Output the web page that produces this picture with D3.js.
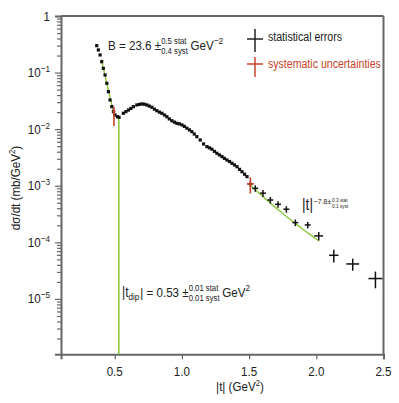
<!DOCTYPE html>
<html>
<head>
<meta charset="utf-8">
<script src="https://cdn.jsdelivr.net/npm/d3@7"></script>
<style>
	body { margin: 0; background: #fff; }
	svg { display: block; font-family: 'Liberation Sans', Arial, sans-serif; }
</style>
</head>
<body>
<svg id="viz_area" width="399" height="403"></svg>
<script>
// dense points below |t| = 1.5 (error bars smaller than the marker)
const tDots = [0.366, 0.378, 0.391, 0.403, 0.415, 0.428, 0.441, 0.453, 0.465, 0.478, 0.490, 0.502, 0.520, 0.532,
	0.564, 0.583, 0.602, 0.620, 0.639, 0.664, 0.683, 0.701, 0.720, 0.739, 0.757, 0.776, 0.795, 0.813, 0.832, 0.851,
	0.870, 0.888, 0.906, 0.925, 0.944, 0.962, 0.981, 1.000, 1.018, 1.037, 1.056, 1.074, 1.092, 1.111, 1.136,
	1.161, 1.186, 1.205, 1.223, 1.242, 1.260, 1.279, 1.298, 1.316, 1.335, 1.354, 1.372, 1.391, 1.410, 1.429, 1.447,
	1.466, 1.484];
const yDots = [0.299, 0.251, 0.205, 0.156, 0.119, 0.0907, 0.0647, 0.046, 0.0328, 0.025, 0.0204, 0.0178, 0.0166, 0.0162,
	0.0191, 0.0204, 0.0218, 0.0232, 0.025, 0.0268, 0.0274, 0.0279, 0.0276, 0.0268, 0.0256, 0.0244, 0.0226, 0.0212, 0.0200, 0.0191,
	0.0178, 0.0166, 0.0152, 0.0141, 0.0133, 0.0127, 0.0124, 0.0119, 0.0112, 0.0104, 0.0097, 0.00903, 0.0082, 0.00737, 0.00644,
	0.00548, 0.00491, 0.00468, 0.00442, 0.00405, 0.00375, 0.00350, 0.00327, 0.00305, 0.00285, 0.00268, 0.0025, 0.00233, 0.00217, 0.00195, 0.00177,
	0.00160, 0.00145];

// points drawn with statistical error crosses
const tCross = [1.509, 1.546, 1.603, 1.658, 1.715, 1.777, 1.844, 1.936, 2.018, 2.130, 2.271, 2.440];
const yCross = [1.08e-3, 9.0e-4, 7.4e-4, 5.6e-4, 4.7e-4, 3.85e-4, 2.23e-4, 2.03e-4, 1.30e-4, 5.9e-5, 4.15e-5, 2.29e-5];
const tErrCross = [0.022, 0.022, 0.022, 0.022, 0.022, 0.022, 0.022, 0.022, 0.033, 0.035, 0.048, 0.052];
const yErrCross = [1.3e-4, 1.2e-4, 1.0e-4, 0.75e-4, 0.6e-4, 0.5e-4, 0.3e-4, 0.27e-4, 0.22e-4, 1.5e-5, 1.0e-5, 0.75e-5];

// systematic uncertainties
const tSys = [0.494, 1.509];
const ySys = [0.0204, 1.08e-3];
const tErrSys = [0.012, 0.025];
const ySysLo = [0.0114, 7.3e-4];
const ySysHi = [0.025, 1.41e-3];

// fits
const tDip = 0.53;
const dipLevel = 0.0162;
const expFit = { B: 23.6, norm: 2134, from: 0.40, to: 0.49 };
const powFit = { n: 7.8, norm: 0.0255, from: 1.5, to: 2.02 };

const xTicks = [0.5, 1.0, 1.5, 2.0, 2.5];
const yExponents = [0, -1, -2, -3, -4, -5];

const green = '#8cc63f';
const red = '#c9432b';
const ink = '#222';
const axisColor = '#666';
const narrow = 0.86; // horizontal squeeze, the original uses a condensed face

const svg = d3.select('#viz_area');
const x = d3.scaleLinear().domain([0.1, 2.5]).range([61, 383.5]);
const y = d3.scaleLog().domain([1.05e-6, 1]).range([354.3, 16]);

// places text pieces one after the other (super/subscripts, stacked errors)
function rich(parent, x0, base, parts, anchor, color) {
	let g = parent.append('g');
	let cx = 0;
	parts.forEach((p) => {
		if (p.stack) {
			let w = 0;
			p.stack.forEach((s, j) => {
				let t = g.append('text').attr('x', cx).attr('y', p.dy[j])
					.attr('font-size', p.size).attr('fill', color || ink).text(s);
				w = Math.max(w, t.node().getComputedTextLength());
			});
			cx += w + (p.gap || 2);
		} else {
			let t = g.append('text').attr('x', cx).attr('y', p.dy || 0)
				.attr('font-size', p.size).attr('fill', color || ink).text(p.text);
			cx += t.node().getComputedTextLength() + (p.gap || 0);
		}
	});
	let w = cx * narrow;
	let shift = anchor === 'end' ? -w : anchor === 'middle' ? -w / 2 : 0;
	g.attr('transform', 'translate(' + (x0 + shift) + ',' + base + ') scale(' + narrow + ',1)');
	return w;
}

// minor ticks on y
let minorVals = [];
for (let e = -6; e < 0; e++) {
	for (let k = 2; k <= 9; k++) {
		let v = k * Math.pow(10, e);
		if (v >= y.domain()[0]) minorVals.push(v);
	}
}
const majorVals = yExponents.map((e) => Math.pow(10, e));

const yMinor = svg.append('g').attr('transform', 'translate(61,0)')
	.call(d3.axisLeft(y).tickValues(minorVals).tickSize(4).tickFormat(''));
const yMajor = svg.append('g').attr('transform', 'translate(61,0)')
	.call(d3.axisLeft(y).tickValues(majorVals).tickSize(6).tickFormat(''));
const xAxis = svg.append('g').attr('transform', 'translate(0,354.3)')
	.call(d3.axisBottom(x).tickValues(xTicks).tickSize(5).tickFormat(''));

svg.selectAll('.domain').attr('stroke', axisColor).attr('stroke-width', 2);
svg.selectAll('.tick line').attr('stroke', axisColor).attr('stroke-width', 1.2);
yMinor.select('.domain').remove();

// frame top and right
svg.append('line').attr('x1', x(0.1)).attr('x2', x(2.5)).attr('y1', y(1)).attr('y2', y(1))
	.attr('stroke', axisColor).attr('stroke-width', 2);
svg.append('line').attr('x1', x(2.5)).attr('x2', x(2.5)).attr('y1', y(1)).attr('y2', y(1.05e-6))
	.attr('stroke', axisColor).attr('stroke-width', 2);

// tick labels
xTicks.forEach((d) => {
	rich(svg, x(d), 376, [ { text: d.toFixed(1), size: 13.5 } ], 'middle');
});

yExponents.forEach((e) => {
	let parts = e === 0
		? [ { text: '1', size: 13.5 } ]
		: [ { text: '10', size: 13.5 }, { text: '\u2212' + -e, size: 9.5, dy: -5 } ];
	rich(svg, 50, y(Math.pow(10, e)) + 4.5, parts, 'end');
});

// axis titles
rich(svg, 240, 391, [
	{ text: '|t|  (GeV', size: 13.5 },
	{ text: '2', size: 9, dy: -5 },
	{ text: ')', size: 13.5 }
], 'middle');

const yTitle = svg.append('g').attr('transform', 'translate(20,188) rotate(-90)');
rich(yTitle, 0, 0, [
	{ text: 'd\u03c3/dt (mb/GeV', size: 13.5 },
	{ text: '2', size: 9, dy: -5 },
	{ text: ')', size: 13.5 }
], 'middle');

// fits
svg.append('line').attr('x1', x(tDip)).attr('x2', x(tDip)).attr('y1', y(dipLevel)).attr('y2', y(1.05e-6))
	.attr('stroke', green).attr('stroke-width', 1.6);

const fitLine = d3.line().x((d) => x(d[0])).y((d) => y(d[1]));
const expPts = d3.range(expFit.from, expFit.to + 0.001, 0.01).map((t) => [t, expFit.norm * Math.exp(-expFit.B * t)]);
const powPts = d3.range(powFit.from, powFit.to + 0.001, 0.02).map((t) => [t, powFit.norm * Math.pow(t, -powFit.n)]);
svg.append('path').attr('d', fitLine(expPts)).attr('fill', 'none').attr('stroke', green).attr('stroke-width', 1.4);
svg.append('path').attr('d', fitLine(powPts)).attr('fill', 'none').attr('stroke', green).attr('stroke-width', 1.4);

// dense points
svg.append('g').selectAll('rect').data(tDots).join('rect')
	.attr('x', (d) => x(d) - 1.6).attr('y', (d, i) => y(yDots[i]) - 1.6)
	.attr('width', 3.2).attr('height', 3.2).attr('fill', '#111');

// crosses
const cross = svg.append('g').attr('stroke', '#111').attr('stroke-width', 1.5);
tCross.forEach((t, i) => {
	cross.append('line').attr('x1', x(t - tErrCross[i])).attr('x2', x(t + tErrCross[i]))
		.attr('y1', y(yCross[i])).attr('y2', y(yCross[i]));
	cross.append('line').attr('x1', x(t)).attr('x2', x(t))
		.attr('y1', y(yCross[i] - yErrCross[i])).attr('y2', y(yCross[i] + yErrCross[i]));
});

// systematic bars
const sys = svg.append('g').attr('stroke', red).attr('stroke-width', 1.6);
tSys.forEach((t, i) => {
	sys.append('line').attr('x1', x(t - tErrSys[i])).attr('x2', x(t + tErrSys[i]))
		.attr('y1', y(ySys[i])).attr('y2', y(ySys[i]));
	sys.append('line').attr('x1', x(t)).attr('x2', x(t))
		.attr('y1', y(ySysLo[i])).attr('y2', y(ySysHi[i]));
});

// legend
const leg = svg.append('g');
leg.append('line').attr('x1', 247).attr('x2', 263).attr('y1', 39).attr('y2', 39).attr('stroke', ink).attr('stroke-width', 1.5);
leg.append('line').attr('x1', 255).attr('x2', 255).attr('y1', 29).attr('y2', 52).attr('stroke', ink).attr('stroke-width', 1.5);
rich(leg, 268, 40.5, [ { text: 'statistical errors', size: 12.3 } ]);
leg.append('line').attr('x1', 247).attr('x2', 263).attr('y1', 64).attr('y2', 64).attr('stroke', red).attr('stroke-width', 1.5);
leg.append('line').attr('x1', 255).attr('x2', 255).attr('y1', 57).attr('y2', 77).attr('stroke', red).attr('stroke-width', 1.5);
rich(leg, 268, 67.5, [ { text: 'systematic uncertainties', size: 12.3 } ], 'start', red);

// annotations
rich(svg, 108, 50, [
	{ text: 'B = 23.6 \u00b1 ', size: 13.5 },
	{ stack: ['0.5 stat', '0.4 syst'], size: 9, dy: [-6.5, 4], gap: 3 },
	{ text: 'GeV', size: 13.5 },
	{ text: '\u22122', size: 9.5, dy: -6 }
]);

rich(svg, 122, 297, [
	{ text: '|t', size: 14 },
	{ text: 'dip', size: 9.5, dy: 3, gap: 1 },
	{ text: '| = 0.53 \u00b1 ', size: 13.5 },
	{ stack: ['0.01 stat', '0.01 syst'], size: 9, dy: [-6.5, 4], gap: 3 },
	{ text: 'GeV', size: 13.5 },
	{ text: '2', size: 9.5, dy: -6 }
]);

rich(svg, 302, 210, [
	{ text: '|t|', size: 16, gap: 1 },
	{ text: '\u22127.8\u00b1', size: 8, dy: -6, gap: 1 },
	{ stack: ['0.3 stat', '0.1 syst'], size: 5.5, dy: [-8.5, -2] }
]);
</script>
</body>
</html>
